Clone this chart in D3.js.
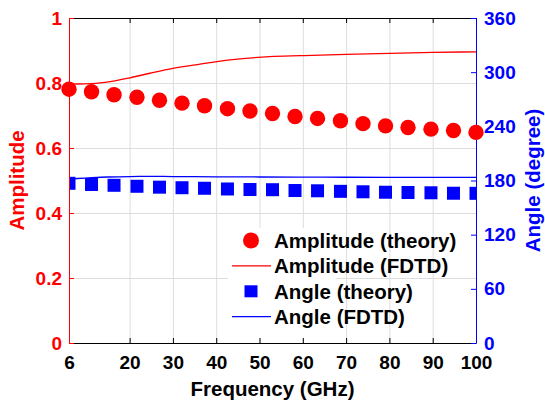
<!DOCTYPE html>
<html>
<head>
<meta charset="utf-8">
<script src="https://cdn.jsdelivr.net/npm/d3@7"></script>
<style>
  html, body { margin: 0; padding: 0; background: #fff; }
  svg { display: block; font-family: "Liberation Sans", Arial, sans-serif; font-weight: bold; }
</style>
</head>
<body>
<div id="chart"></div>
<script>
// theory points (GHz)
const theoryFreq = [6, 11.2, 16.4, 21.7, 26.9, 32.1, 37.3, 42.6, 47.8, 53, 58.2, 63.4, 68.7, 73.9, 79.1, 84.3, 89.6, 94.8, 100];
const ampTheory = [0.781, 0.773, 0.764, 0.756, 0.747, 0.738, 0.730, 0.721, 0.714, 0.706, 0.697, 0.691, 0.684, 0.675, 0.668, 0.663, 0.658, 0.654, 0.648];
const angTheory = [176.9, 175.6, 174.7, 173.6, 172.6, 172.0, 171.4, 170.6, 170.0, 169.8, 168.9, 168.6, 168.0, 167.5, 167.0, 166.7, 166.4, 165.9, 165.8];

// FDTD curves
const ampFdtdFreq = [6, 8, 11.3, 15.5, 20.1, 24.7, 30, 36.3, 43.2, 52.4, 59.4, 70, 80, 90, 100];
const ampFdtd = [0.798, 0.797, 0.798, 0.804, 0.816, 0.830, 0.845, 0.858, 0.871, 0.881, 0.884, 0.888, 0.891, 0.894, 0.896];
const angFdtdFreq = [6, 8, 11.3, 15, 20, 25, 30, 40, 50, 60, 70, 80, 90, 100];
const angFdtd = [181.7, 182.2, 183.1, 183.9, 184.4, 184.5, 184.4, 184.1, 183.9, 183.7, 183.6, 183.5, 183.4, 183.4];

const xTicks = [6, 20, 30, 40, 50, 60, 70, 80, 90, 100];
const ampTicks = [0, 0.2, 0.4, 0.6, 0.8, 1];
const angTicks = [0, 60, 120, 180, 240, 300, 360];
const legendLabels = ["Amplitude (theory)", "Amplitude (FDTD)", "Angle (theory)", "Angle (FDTD)"];

const width = 545, height = 401;
const plot = { left: 69, right: 476, top: 18, bottom: 343 };
const RED = "#ff0000", BLUE = "#0000ff", GRID = "#dddddd";

const svg = d3.select("#chart").append("svg")
    .attr("width", width)
    .attr("height", height);

const x = d3.scaleLinear().domain([6, 100]).range([plot.left, plot.right]);
const yAmp = d3.scaleLinear().domain([0, 1]).range([plot.bottom, plot.top]);
const yAng = d3.scaleLinear().domain([0, 360]).range([plot.bottom, plot.top]);

svg.append("defs").append("clipPath").attr("id", "plot-clip")
    .append("rect")
    .attr("x", plot.left).attr("y", plot.top)
    .attr("width", plot.right - plot.left).attr("height", plot.bottom - plot.top);

// grid
svg.append("g")
    .attr("transform", `translate(0,${plot.bottom})`)
    .call(d3.axisBottom(x).tickValues(xTicks.filter(d => d > 6 && d < 100)).tickSize(-(plot.bottom - plot.top)).tickFormat(""))
    .call(g => g.select(".domain").remove())
    .call(g => g.selectAll("line").attr("stroke", GRID));

svg.append("g")
    .attr("transform", `translate(${plot.left},0)`)
    .call(d3.axisLeft(yAmp).tickValues(ampTicks.filter(d => d > 0 && d < 1)).tickSize(-(plot.right - plot.left)).tickFormat(""))
    .call(g => g.select(".domain").remove())
    .call(g => g.selectAll("line").attr("stroke", GRID));

// FDTD lines
const ampLine = d3.line()
    .x((d, i) => x(ampFdtdFreq[i]))
    .y(d => yAmp(d))
    .curve(d3.curveMonotoneX);

svg.append("path")
    .datum(ampFdtd)
    .attr("fill", "none")
    .attr("stroke", RED)
    .attr("stroke-width", 1.3)
    .attr("d", ampLine);

const angLine = d3.line()
    .x((d, i) => x(angFdtdFreq[i]))
    .y(d => yAng(d))
    .curve(d3.curveMonotoneX);

svg.append("path")
    .datum(angFdtd)
    .attr("fill", "none")
    .attr("stroke", BLUE)
    .attr("stroke-width", 1.3)
    .attr("d", angLine);

// angle theory squares (clipped to the axes box)
const sq = 13;
svg.append("g")
    .attr("clip-path", "url(#plot-clip)")
    .selectAll("rect")
    .data(angTheory)
    .join("rect")
    .attr("x", (d, i) => x(theoryFreq[i]) - sq / 2)
    .attr("y", d => yAng(d) - sq / 2)
    .attr("width", sq)
    .attr("height", sq)
    .attr("fill", BLUE);

// axes
const tickFont = "19px";
const styleTicks = (g, color) => g.selectAll("text")
    .attr("fill", color)
    .style("font-size", tickFont)
    .style("font-weight", "bold")
    .style("font-family", "'Liberation Sans', Arial, sans-serif");

svg.append("g")
    .attr("transform", `translate(0,${plot.top})`)
    .call(d3.axisTop(x).tickValues(xTicks).tickSize(-5).tickSizeOuter(0).tickFormat(""))
    .call(g => g.select(".domain").attr("stroke", "#000"))
    .call(g => g.selectAll("line").attr("stroke", "#000"));

svg.append("g")
    .attr("transform", `translate(0,${plot.bottom})`)
    .call(d3.axisBottom(x).tickValues(xTicks).tickSize(-5).tickSizeOuter(0).tickPadding(13))
    .call(g => g.select(".domain").attr("stroke", "#000"))
    .call(g => g.selectAll("line").attr("stroke", "#000"))
    .call(g => styleTicks(g, "#000"));

svg.append("g")
    .attr("transform", `translate(${plot.left},0)`)
    .call(d3.axisLeft(yAmp).tickValues(ampTicks).tickSize(-5).tickSizeOuter(0).tickPadding(7).tickFormat(d3.format("~g")))
    .call(g => g.select(".domain").attr("stroke", RED))
    .call(g => g.selectAll("line").attr("stroke", RED))
    .call(g => styleTicks(g, RED));

svg.append("g")
    .attr("transform", `translate(${plot.right},0)`)
    .call(d3.axisRight(yAng).tickValues(angTicks).tickSize(-5).tickSizeOuter(0).tickPadding(8))
    .call(g => g.select(".domain").attr("stroke", BLUE))
    .call(g => g.selectAll("line").attr("stroke", BLUE))
    .call(g => styleTicks(g, BLUE));

// amplitude theory circles (drawn over the axes)
svg.append("g")
    .selectAll("circle")
    .data(ampTheory)
    .join("circle")
    .attr("cx", (d, i) => x(theoryFreq[i]))
    .attr("cy", d => yAmp(d))
    .attr("r", 7.7)
    .attr("fill", RED);

// axis labels
svg.append("text")
    .attr("x", (plot.left + plot.right) / 2)
    .attr("y", 396)
    .attr("text-anchor", "middle")
    .attr("fill", "#000")
    .style("font-size", "20.5px")
    .text("Frequency (GHz)");

svg.append("text")
    .attr("transform", `translate(24,${(plot.top + plot.bottom) / 2}) rotate(-90)`)
    .attr("text-anchor", "middle")
    .attr("fill", RED)
    .style("font-size", "20.5px")
    .text("Amplitude");

svg.append("text")
    .attr("transform", `translate(540,${(plot.top + plot.bottom) / 2}) rotate(-90)`)
    .attr("text-anchor", "middle")
    .attr("fill", BLUE)
    .style("font-size", "20.5px")
    .text("Angle (degree)");

// legend
const legend = svg.append("g");
legend.append("rect")
    .attr("x", 228).attr("y", 228)
    .attr("width", 108).attr("height", 110)
    .attr("fill", "#fff");

const rowY = i => 240.5 + i * 25.4;
legend.append("circle").attr("cx", 251).attr("cy", rowY(0)).attr("r", 8).attr("fill", RED);
legend.append("line").attr("x1", 232).attr("x2", 271).attr("y1", rowY(1)).attr("y2", rowY(1))
    .attr("stroke", RED).attr("stroke-width", 1.3);
legend.append("rect").attr("x", 251 - 6.5).attr("y", rowY(2) - 6).attr("width", 13).attr("height", 12).attr("fill", BLUE);
legend.append("line").attr("x1", 232).attr("x2", 271).attr("y1", rowY(3)).attr("y2", rowY(3))
    .attr("stroke", BLUE).attr("stroke-width", 1.3);

legend.selectAll("text.lab")
    .data(legendLabels)
    .join("text")
    .attr("class", "lab")
    .attr("x", 274)
    .attr("y", (d, i) => rowY(i) + 7.5)
    .attr("fill", "#000")
    .style("font-size", "20.5px")
    .text(d => d);
</script>
</body>
</html>
